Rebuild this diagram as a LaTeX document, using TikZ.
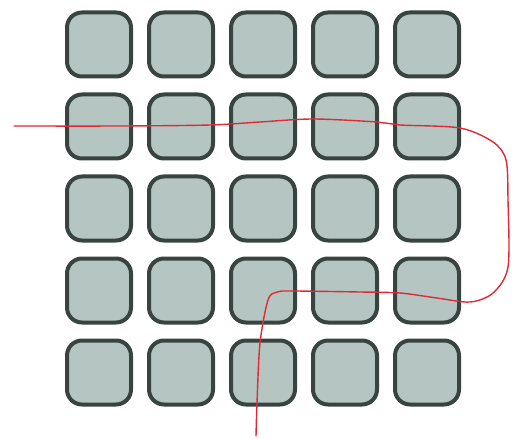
\documentclass[tikz,border=0pt]{standalone}
\begin{document}
\begin{tikzpicture}[x=1pt,y=-1pt,
  cell/.style={draw=cellline,fill=cellfill,line width=4pt,rounded corners=15pt,
    minimum width=64pt,minimum height=64pt,inner sep=0pt,outer sep=0pt},
  scribble/.style={draw=scribred,line width=1.4pt,line cap=round,line join=round}]
\definecolor{cellline}{HTML}{38443F}
\definecolor{cellfill}{HTML}{B5C5C1}
\definecolor{scribred}{HTML}{E02A35}
\useasboundingbox (0,0) rectangle (518,438);
\foreach \r in {0,...,4}{
  \foreach \c in {0,...,4}{
    \node[cell] (c\r\c) at ({99+82*\c},{44.5+82*\r}) {};
  }
}
\coordinate (s) at (14,126);
\coordinate (e) at (256,436);
\draw[scribble] plot[smooth,tension=0.5] coordinates {
  (s) (120,126) (210,125) (260,122) (313,119) (377,122) (400,125) (460,128)
  (493,142) (506,160) (508,200) (508,267) (493,293) (470,302) (437,298)
  (400,293) (360,292) (293,291) (277,292) (268,300) (260,343) (257,403) (e)};
\end{tikzpicture}
\end{document}
